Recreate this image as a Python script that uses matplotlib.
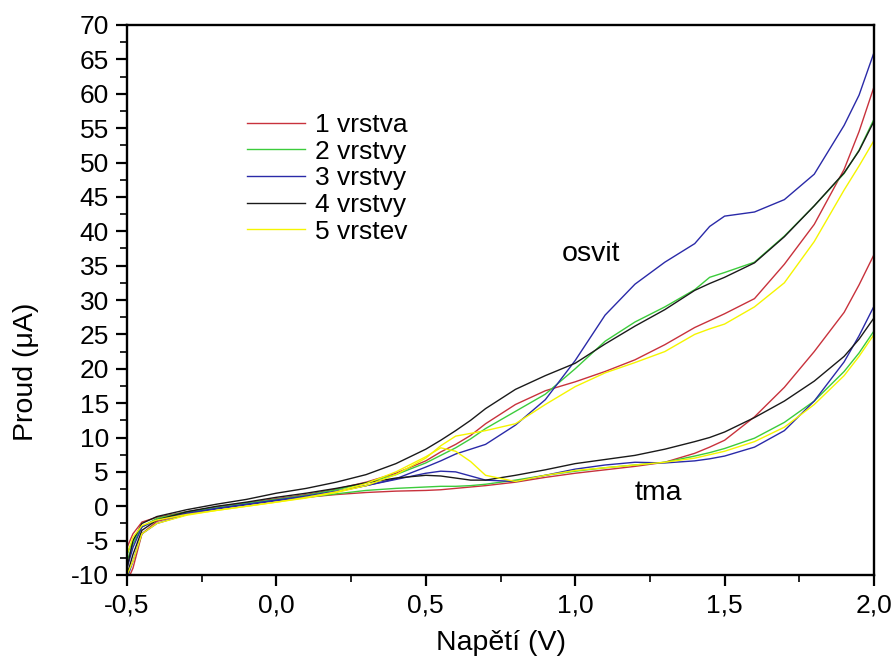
import matplotlib
matplotlib.use('Agg')
from matplotlib import pyplot as plt
from matplotlib.ticker import MultipleLocator, FuncFormatter

plt.rcParams['font.family'] = ['Liberation Sans', 'DejaVu Sans']
plt.rcParams['axes.unicode_minus'] = False

# napeti (V)
volt = [-0.5, -0.48, -0.45, -0.4, -0.3, -0.2, -0.1, 0.0, 0.1, 0.2, 0.3, 0.4,
        0.5, 0.55, 0.6, 0.65, 0.7, 0.8, 0.9, 1.0, 1.1, 1.2, 1.3, 1.4, 1.45,
        1.5, 1.6, 1.7, 1.8, 1.9, 1.95, 2.0]

# proud (uA) - osvit
osvit_1 = [-6, -4, -2.3, -1.6, -0.8, -0.1, 0.5, 1.1, 1.7, 2.5, 3.5, 4.8, 6.6, 7.9,
           9.0, 10.3, 12.0, 14.8, 16.8, 18.1, 19.6, 21.3, 23.5, 26.0, 27.0, 28.0,
           30.2, 35.2, 41.0, 49.0, 54.5, 61.0]
osvit_2 = [-7, -5, -3, -1.8, -0.8, -0.2, 0.4, 1.0, 1.6, 2.4, 3.4, 4.6, 6.3, 7.4,
           8.5, 9.8, 11.3, 13.8, 16.3, 20.0, 24.0, 26.8, 29.0, 31.5, 33.3, 34.0,
           35.5, 39.3, 43.7, 48.4, 51.8, 56.3]
osvit_3 = [-10.5, -8, -4, -2.5, -1.2, -0.4, 0.2, 0.8, 1.3, 2.1, 3.0, 4.0, 5.7, 6.6,
           7.6, 8.3, 9.0, 11.8, 15.5, 21.2, 27.8, 32.3, 35.5, 38.2, 40.7, 42.2,
           42.8, 44.6, 48.3, 55.4, 59.8, 66.0]
osvit_4 = [-9, -5, -2.5, -1.5, -0.5, 0.3, 1.0, 1.9, 2.6, 3.5, 4.6, 6.2, 8.3, 9.6,
           11.0, 12.5, 14.2, 17.0, 19.0, 20.8, 23.6, 26.2, 28.6, 31.4, 32.4, 33.3,
           35.4, 39.2, 43.7, 48.5, 51.7, 56.0]
osvit_5 = [-7, -4.5, -2.8, -2.0, -1.2, -0.6, 0.0, 0.6, 1.2, 2.0, 3.0, 4.6, 7.0, 8.8,
           10.2, 10.6, 11.0, 12.0, 14.8, 17.4, 19.4, 20.9, 22.5, 25.0, 25.8, 26.5,
           29.0, 32.5, 38.5, 46.0, 49.5, 53.2]

# proud (uA) - tma
tma_1 = [-11, -9, -4, -2.2, -1.1, -0.3, 0.4, 0.9, 1.3, 1.7, 2.0, 2.2, 2.3, 2.4,
         2.6, 2.8, 3.0, 3.5, 4.2, 4.8, 5.3, 5.8, 6.4, 7.7, 8.6, 9.6, 13.0, 17.3,
         22.5, 28.2, 32.2, 36.6]
tma_2 = [-8, -5.5, -3, -1.8, -0.9, -0.3, 0.4, 0.9, 1.3, 1.8, 2.3, 2.6, 2.8, 2.9,
         2.9, 3.0, 3.2, 3.8, 4.5, 5.1, 5.6, 6.0, 6.4, 7.3, 7.8, 8.4, 9.9, 12.2,
         15.3, 19.6, 22.3, 25.5]
tma_3 = [-9, -6, -3, -2, -1, -0.3, 0.3, 0.9, 1.5, 2.2, 3.0, 3.9, 4.8, 5.1, 5.0,
         4.4, 3.8, 3.6, 4.5, 5.4, 6.0, 6.4, 6.3, 6.6, 6.9, 7.3, 8.6, 11.0, 15.3,
         21.0, 24.8, 29.1]
tma_4 = [-10, -7, -3.5, -2, -0.8, 0, 0.6, 1.3, 1.9, 2.6, 3.4, 4.1, 4.5, 4.4, 4.1,
         3.8, 3.8, 4.5, 5.3, 6.2, 6.8, 7.4, 8.3, 9.4, 10.0, 10.8, 12.9, 15.3,
         18.2, 21.8, 24.3, 27.4]
tma_5 = [-10, -8, -4, -2.5, -1.3, -0.6, 0.0, 0.6, 1.3, 2.1, 3.3, 5.0, 7.2, 8.5,
         8.0, 6.5, 4.5, 3.6, 4.5, 5.2, 5.6, 6.0, 6.4, 7.0, 7.5, 8.0, 9.4, 11.5,
         14.8, 19.0, 21.8, 25.0]

labels = ['1 vrstva', '2 vrstvy', '3 vrstvy', '4 vrstvy', '5 vrstev']
colors = ['#c8323c', '#3ccc3c', '#2a2aa8', '#1a1a1a', '#f5f500']

fig = plt.figure(figsize=(8.94, 6.61), dpi=100)
ax = fig.add_axes([127 / 894, 1 - 575 / 661, 747 / 894, 550 / 661])

for osv, tm, lab, col in zip([osvit_1, osvit_2, osvit_3, osvit_4, osvit_5],
                             [tma_1, tma_2, tma_3, tma_4, tma_5], labels, colors):
    ax.plot(volt, osv, color=col, lw=1.0, label=lab)
    ax.plot(volt, tm, color=col, lw=1.0)

ax.set_xlim(-0.5, 2.0)
ax.set_ylim(-10, 70)
ax.xaxis.set_major_locator(MultipleLocator(0.5))
ax.xaxis.set_minor_locator(MultipleLocator(0.25))
ax.yaxis.set_major_locator(MultipleLocator(5))
ax.yaxis.set_minor_locator(MultipleLocator(2.5))
ax.xaxis.set_major_formatter(FuncFormatter(lambda v, p: ('%.1f' % v).replace('.', ',')))
ax.yaxis.set_major_formatter(FuncFormatter(lambda v, p: '%d' % v))

ax.tick_params(which='major', direction='out', length=8, width=1.6, labelsize=19, pad=5)
ax.tick_params(which='minor', direction='out', length=5, width=1.2)
ax.tick_params(top=False, right=False, which='both')
for s in ax.spines.values():
    s.set_linewidth(1.7)

ax.set_xlabel('Napětí (V)', fontsize=20.5)
ax.set_ylabel('Proud (μA)', fontsize=20.5)
ax.xaxis.set_label_coords(0.5, -0.1)
ax.yaxis.set_label_coords(-0.118, 0.37)

ax.text(1.053, 36.7, 'osvit', fontsize=20.5, ha='center', va='center')
ax.text(1.277, 1.9, 'tma', fontsize=20.5, ha='center', va='center')

ax.legend(loc='upper left', bbox_to_anchor=(0.161, 0.84), frameon=False,
          fontsize=19, handlelength=2.2, handletextpad=0.35, labelspacing=0.1,
          borderpad=0, borderaxespad=0)

fig.savefig('out.png', dpi=100)
